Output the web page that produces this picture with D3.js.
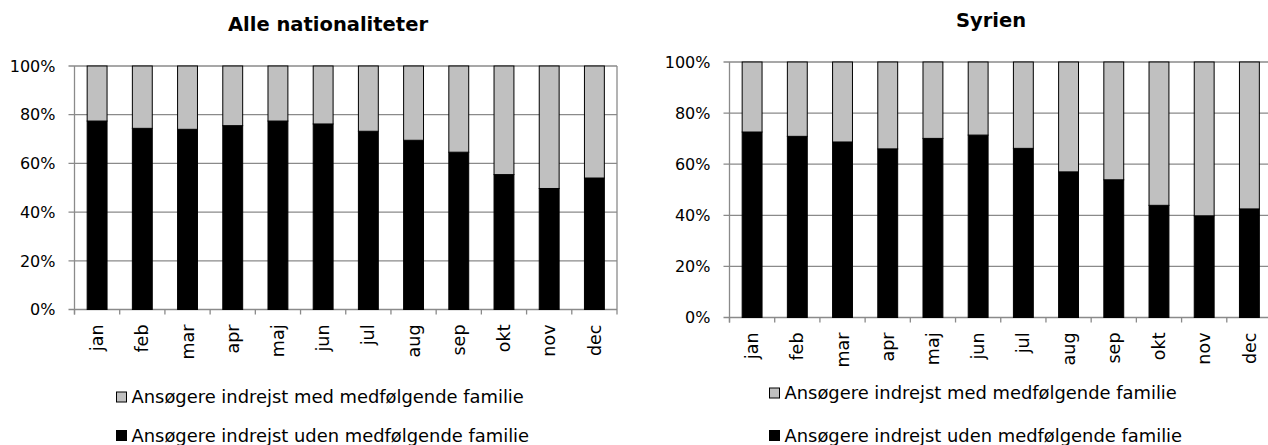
<!DOCTYPE html>
<html>
<head>
<meta charset="utf-8">
<title>Ansøgere med og uden medfølgende familie</title>
<script src="https://d3js.org/d3.v7.min.js"></script>
<style>
  body { margin: 0; background: #fff; }
  text { font-family: "DejaVu Sans", sans-serif; fill: #000; }
</style>
</head>
<body>
<svg id="chart" width="1268" height="445"></svg>
<script>
// months on the x axis
var months = ['jan', 'feb', 'mar', 'apr', 'maj', 'jun', 'jul', 'aug', 'sep', 'okt', 'nov', 'dec'];
var yTicks = [0, 20, 40, 60, 80, 100];

// Alle nationaliteter (percent)
var alleUden = [77.4, 74.4, 74.0, 75.5, 77.4, 76.2, 73.2, 69.5, 64.6, 55.4, 49.7, 54.0];
var alleMed  = [22.6, 25.6, 26.0, 24.5, 22.6, 23.8, 26.8, 30.5, 35.4, 44.6, 50.3, 46.0];

// Syrien (percent)
var syrUden = [72.6, 70.9, 68.7, 66.0, 70.1, 71.4, 66.2, 57.0, 53.9, 43.9, 39.8, 42.5];
var syrMed  = [27.4, 29.1, 31.3, 34.0, 29.9, 28.6, 33.8, 43.0, 46.1, 56.1, 60.2, 57.5];

var seriesNames = ['Ansøgere indrejst med medfølgende familie', 'Ansøgere indrejst uden medfølgende familie'];
var seriesColors = ['#c0c0c0', '#000000'];

var svg = d3.select('#chart');

function drawPanel(opt) {
  var g = svg.append('g');
  var x = d3.scaleBand()
      .domain(months)
      .range([opt.left, opt.left + opt.width])
      .paddingInner(0.56)
      .paddingOuter(0.28);
  var y = d3.scaleLinear()
      .domain([0, 100])
      .range([opt.bottom, opt.top]);

  var gap = (x.step() - x.bandwidth()) / 2;

  // gridlines + little ticks left of the axis
  g.selectAll('.grid').data(yTicks).enter().append('line')
      .attr('x1', opt.left - 6)
      .attr('x2', opt.left + opt.width)
      .attr('y1', function(d) { return y(d); })
      .attr('y2', function(d) { return y(d); })
      .attr('stroke', '#8a8a8a')
      .attr('stroke-width', 1.3);

  // y axis line
  g.append('line')
      .attr('x1', opt.left).attr('x2', opt.left)
      .attr('y1', y(100)).attr('y2', y(0) + 5)
      .attr('stroke', '#8a8a8a').attr('stroke-width', 1.3);

  // right border of plot area
  g.append('line')
      .attr('x1', opt.left + opt.width).attr('x2', opt.left + opt.width)
      .attr('y1', y(100)).attr('y2', y(0) + 5)
      .attr('stroke', '#8a8a8a').attr('stroke-width', 1.3);

  // x ticks at category boundaries
  g.selectAll('.xtick').data(months).enter().append('line')
      .attr('x1', function(d) { return x(d) - gap; })
      .attr('x2', function(d) { return x(d) - gap; })
      .attr('y1', y(0))
      .attr('y2', y(0) + 5)
      .attr('stroke', '#8a8a8a').attr('stroke-width', 1.3);

  // y labels
  g.selectAll('.ylab').data(yTicks).enter().append('text')
      .attr('x', opt.left - 19)
      .attr('y', function(d) { return y(d); })
      .attr('dy', '0.36em')
      .attr('text-anchor', 'end')
      .style('font-size', '16px')
      .text(function(d) { return d + '%'; });

  // stacked bars
  var rows = months.map(function(m, i) {
    return { m: m, uden: opt.uden[i], med: opt.med[i] };
  });
  g.selectAll('.uden').data(rows).enter().append('rect')
      .attr('x', function(d) { return x(d.m); })
      .attr('width', x.bandwidth())
      .attr('y', function(d) { return y(d.uden); })
      .attr('height', function(d) { return y(0) - y(d.uden); })
      .attr('fill', seriesColors[1])
      .attr('stroke', '#000').attr('stroke-width', 1);
  g.selectAll('.med').data(rows).enter().append('rect')
      .attr('x', function(d) { return x(d.m); })
      .attr('width', x.bandwidth())
      .attr('y', function(d) { return y(d.uden + d.med); })
      .attr('height', function(d) { return y(d.uden) - y(d.uden + d.med); })
      .attr('fill', seriesColors[0])
      .attr('stroke', '#000').attr('stroke-width', 1);

  // month labels, rotated
  g.selectAll('.xlab').data(months).enter().append('text')
      .attr('transform', function(d) {
        return 'translate(' + (x(d) + x.bandwidth() / 2) + ',' + (y(0) + 15) + ') rotate(-90)';
      })
      .attr('dy', '0.35em')
      .attr('text-anchor', 'end')
      .style('font-size', '17.5px')
      .text(function(d) { return d; });

  // title
  g.append('text')
      .attr('x', opt.titleX)
      .attr('y', opt.titleY)
      .attr('text-anchor', 'middle')
      .style('font-size', '19.5px')
      .style('font-weight', 'bold')
      .text(opt.title);

  // legend, two rows
  [0, 1].forEach(function(i) {
    var ly = opt.legendY[i];
    g.append('rect')
        .attr('x', opt.legendX)
        .attr('y', ly - 5)
        .attr('width', 10).attr('height', 10)
        .attr('fill', seriesColors[i])
        .attr('stroke', '#000').attr('stroke-width', 1);
    g.append('text')
        .attr('x', opt.legendX + 15)
        .attr('y', ly)
        .attr('dy', '0.36em')
        .style('font-size', '17.9px')
        .text(seriesNames[i]);
  });
}

drawPanel({
  title: 'Alle nationaliteter', titleX: 328, titleY: 31,
  left: 74.5, width: 542.5, top: 66, bottom: 309.5,
  uden: alleUden, med: alleMed,
  legendX: 116.5, legendY: [397, 435.5]
});

drawPanel({
  title: 'Syrien', titleX: 991, titleY: 27,
  left: 729.5, width: 542.5, top: 62, bottom: 317.5,
  uden: syrUden, med: syrMed,
  legendX: 769.5, legendY: [393, 435.5]
});
</script>
</body>
</html>
